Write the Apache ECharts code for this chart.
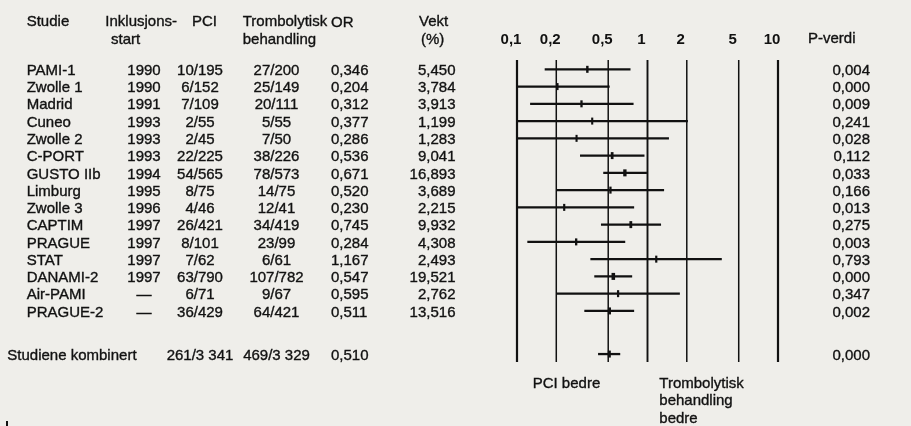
<!DOCTYPE html>
<html><head><meta charset="utf-8">
<script src="https://cdn.jsdelivr.net/npm/echarts@6/dist/echarts.min.js"></script>
<style>html,body{margin:0;padding:0;background:#efeeea}#c{width:911px;height:426px}</style>
</head><body><div id="c"></div>
<script>
// ---- data ----
const studies = ['PAMI-1','Zwolle 1','Madrid','Cuneo','Zwolle 2','C-PORT','GUSTO IIb','Limburg','Zwolle 3','CAPTIM','PRAGUE','STAT','DANAMI-2','Air-PAMI','PRAGUE-2'];
const years = ['1990','1990','1991','1993','1993','1993','1994','1995','1996','1997','1997','1997','1997','—','—'];
const pciEvents = ['10/195','6/152','7/109','2/55','2/45','22/225','54/565','8/75','4/46','26/421','8/101','7/62','63/790','6/71','36/429'];
const tromboEvents = ['27/200','25/149','20/111','5/55','7/50','38/226','78/573','14/75','12/41','34/419','23/99','6/61','107/782','9/67','64/421'];
const orValues = [0.346,0.204,0.312,0.377,0.286,0.536,0.671,0.520,0.230,0.745,0.284,1.167,0.547,0.595,0.511];
const weights = [5.450,3.784,3.913,1.199,1.283,9.041,16.893,3.689,2.215,9.932,4.308,2.493,19.521,2.762,13.516];
const ciLow = [0.163,0.081,0.126,0.070,0.056,0.304,0.458,0.202,0.067,0.440,0.120,0.365,0.391,0.199,0.328];
const ciHigh = [0.741,0.513,0.782,2.04,1.46,0.948,0.990,1.34,0.790,1.27,0.675,3.71,0.763,1.77,0.790];
const pValues = ['0,004','0,000','0,009','0,241','0,028','0,112','0,033','0,166','0,013','0,275','0,003','0,793','0,000','0,347','0,002'];
const combinedLabel = 'Studiene kombinert';
const combinedPci = '261/3 341';
const combinedTrombo = '469/3 329';
const combinedOR = 0.510;
const combinedLow = 0.418;
const combinedHigh = 0.618;
const combinedP = '0,000';
const tickValues = [0.1,0.2,0.5,1,2,5,10];

// ---- build ----
const FONT = '"Liberation Sans", Arial, Helvetica, sans-serif';
const FS = 15;
const INK = '#111';
const combinedRow = studies.length + 1.5;
const fmt3 = v => v.toFixed(3).replace('.', ',');

const plotRows = studies.map((s, i) => [i, orValues[i], ciLow[i], ciHigh[i], weights[i]]);
plotRows.push([combinedRow, combinedOR, combinedLow, combinedHigh, 12]);

const tableRows = studies.map((s, i) => [i, s, years[i], pciEvents[i], tromboEvents[i], fmt3(orValues[i]), fmt3(weights[i]), pValues[i], 0]);
tableRows.push([combinedRow, combinedLabel, '', combinedPci, combinedTrombo, fmt3(combinedOR), '', combinedP, 1]);

function txtStyle(x, y, text, align, weight) {
  return { x: x, y: y, text: text, textAlign: align || 'left', textVerticalAlign: 'middle',
    fill: INK, stroke: INK, lineWidth: weight === 'bold' ? 0 : 0.35,
    font: (weight || 'normal') + ' ' + FS + 'px ' + FONT };
}
function txt(x, y, text, align, weight) {
  return { type: 'text', style: txtStyle(x, y, text, align, weight) };
}

const chart = echarts.init(document.getElementById('c'), null, { renderer: 'canvas' });
const yRange = { min: -0.54, max: 16.96 };

chart.setOption({
  backgroundColor: '#efeeea',
  animation: false,
  grid: [
    { left: 517, top: 60, width: 261, height: 302 },
    { left: 0, top: 60, width: 911, height: 302 }
  ],
  xAxis: [
    { type: 'log', logBase: 10, min: 0.1, max: 10, gridIndex: 0, show: false },
    { type: 'value', min: 0, max: 911, gridIndex: 1, show: false }
  ],
  yAxis: [
    { type: 'value', inverse: true, min: yRange.min, max: yRange.max, gridIndex: 0, show: false },
    { type: 'value', inverse: true, min: yRange.min, max: yRange.max, gridIndex: 1, show: false }
  ],
  series: [
    {
      type: 'custom', name: 'ticks', xAxisIndex: 0, yAxisIndex: 0, clip: false,
      data: tickValues.map(v => [v]),
      renderItem: function (params, api) {
        const v = api.value(0);
        const cs = params.coordSys;
        const x = api.coord([v, 0])[0];
        const w = (v === 0.1 || v === 10) ? 2.2 : (v === 1 ? 1.9 : 1.5);
        return { type: 'group', children: [
          { type: 'line', shape: { x1: x, y1: cs.y, x2: x, y2: cs.y + cs.height }, style: { stroke: INK, lineWidth: w } },
          txt(x - 6, cs.y - 20, String(v).replace('.', ','), 'center', 'bold')
        ] };
      }
    },
    {
      type: 'custom', name: 'ci', xAxisIndex: 0, yAxisIndex: 0, clip: true,
      data: plotRows,
      renderItem: function (params, api) {
        const row = api.value(0);
        const p = api.coord([api.value(1), row]);
        const lo = api.coord([api.value(2), row]);
        const hi = api.coord([api.value(3), row]);
        const mw = 2 + api.value(4) * 0.08;
        return { type: 'group', children: [
          { type: 'line', shape: { x1: lo[0], y1: lo[1], x2: hi[0], y2: hi[1] }, style: { stroke: INK, lineWidth: 2.3 } },
          { type: 'rect', shape: { x: p[0] - mw / 2, y: p[1] - 3.5, width: mw, height: 7 }, style: { fill: INK } }
        ] };
      }
    },
    {
      type: 'custom', name: 'table', xAxisIndex: 1, yAxisIndex: 1, clip: false,
      data: tableRows.map(r => [r[0], 0]),
      renderItem: function (params, api) {
        const r = tableRows[params.dataIndex];
        const y = api.coord([0, r[0]])[1] + 1.5;
        const isComb = r[8] === 1;
        const ch = [];
        ch.push(txt(isComb ? 7.3 : 26.7, y, r[1], 'left'));
        if (r[2]) ch.push(txt(144, y, r[2], 'center'));
        ch.push(txt(200, y, r[3], 'center'));
        ch.push(txt(276.5, y, r[4], 'center'));
        ch.push(txt(331, y, r[5], 'left'));
        if (r[6]) ch.push(txt(455.5, y, r[6], 'right'));
        ch.push(txt(870, y, r[7], 'right'));
        return { type: 'group', children: ch };
      }
    }
  ],
  graphic: [
    ['Studie', 26.7, 22], ['Inklusjons-', 105.3, 22], ['start', 111, 40], ['PCI', 192, 22],
    ['Trombolytisk', 242.7, 22], ['behandling', 242.7, 40], ['OR', 331, 23], ['Vekt', 419, 22], ['(%)', 421, 40],
    ['P-verdi', 808, 39],
    ['PCI bedre', 532.7, 384], ['Trombolytisk', 659.3, 383.5], ['behandling', 659.3, 401], ['bedre', 659.3, 418.5]
  ].map(h => ({ type: 'text', x: h[1], y: h[2], style: txtStyle(0, 0, h[0], 'left') }))
    .concat([{ type: 'rect', x: 6, y: 421, shape: { width: 2, height: 5 }, style: { fill: INK } }])
});
</script>
</body></html>
